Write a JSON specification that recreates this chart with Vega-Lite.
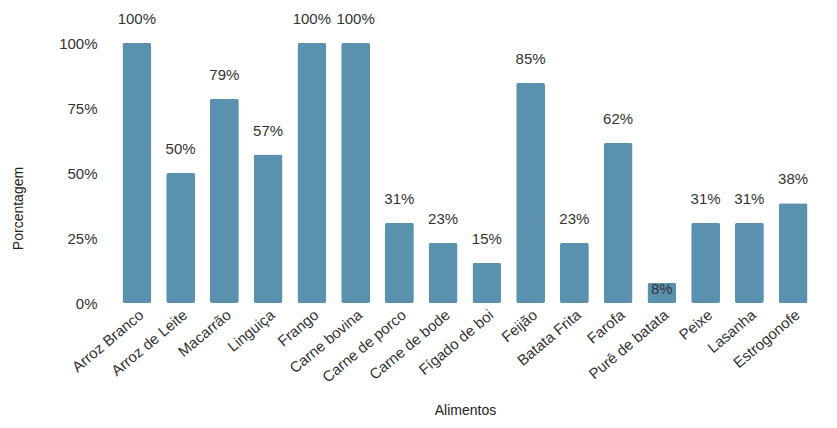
{
  "$schema": "https://vega.github.io/schema/vega-lite/v6.json",
  "autosize": "none",
  "width": 700,
  "height": 260,
  "padding": {"left": 115, "top": 43, "right": 22, "bottom": 125},
  "background": "white",
  "config": {
    "view": {"stroke": null},
    "font": "Liberation Sans",
    "axis": {"labelFont": "Liberation Sans", "titleFont": "Liberation Sans"}
  },
  "data": {
    "values": [
      {"alimento": "Arroz Branco", "pct": 100},
      {"alimento": "Arroz de Leite", "pct": 50},
      {"alimento": "Macarrão", "pct": 78.6},
      {"alimento": "Linguiça", "pct": 57.1},
      {"alimento": "Frango", "pct": 100},
      {"alimento": "Carne bovina", "pct": 100},
      {"alimento": "Carne de porco", "pct": 30.8},
      {"alimento": "Carne de bode", "pct": 23.1},
      {"alimento": "Fígado de boi", "pct": 15.4},
      {"alimento": "Feijão", "pct": 84.6},
      {"alimento": "Batata Frita", "pct": 23.1},
      {"alimento": "Farofa", "pct": 61.5},
      {"alimento": "Purê de batata", "pct": 7.7},
      {"alimento": "Peixe", "pct": 30.8},
      {"alimento": "Lasanha", "pct": 30.8},
      {"alimento": "Estrogonofe", "pct": 38.4}
    ]
  },
  "encoding": {
    "x": {
      "field": "alimento",
      "type": "nominal",
      "sort": null,
      "scale": {"paddingInner": 0.34, "paddingOuter": 0.17},
      "axis": {
        "title": "Alimentos",
        "titleFontSize": 14,
        "titleFontWeight": "normal",
        "titleColor": "#222",
        "titleY": 100,
        "labelAngle": -40,
        "labelAlign": "right",
        "labelBaseline": "top",
        "labelFontSize": 15,
        "labelColor": "#333",
        "labelPadding": 4,
        "domain": false,
        "ticks": false
      }
    },
    "y": {
      "field": "pct",
      "type": "quantitative",
      "scale": {"domain": [0, 100]},
      "axis": {
        "title": "Porcentagem",
        "titleFontSize": 14,
        "titleFontWeight": "normal",
        "titleColor": "#222",
        "titleX": -90,
        "titleY": 165,
        "values": [0, 25, 50, 75, 100],
        "labelExpr": "datum.value + '%'",
        "labelFontSize": 15,
        "labelColor": "#333",
        "labelPadding": 18,
        "grid": false,
        "domain": false,
        "ticks": false
      }
    }
  },
  "layer": [
    {
      "mark": {"type": "bar", "color": "#5a91ae", "cornerRadius": 2}
    },
    {
      "transform": [{"filter": "datum.pct >= 10"}],
      "mark": {"type": "text", "baseline": "bottom", "dy": -16, "fontSize": 15, "color": "#333"},
      "encoding": {"text": {"value": {"expr": "format(datum.pct, '.0f') + '%'"}}}
    },
    {
      "transform": [{"filter": "datum.pct < 10"}],
      "mark": {"type": "text", "baseline": "bottom", "dy": 14, "fontSize": 15, "color": "#333"},
      "encoding": {"text": {"value": {"expr": "format(datum.pct, '.0f') + '%'"}}}
    }
  ]
}
